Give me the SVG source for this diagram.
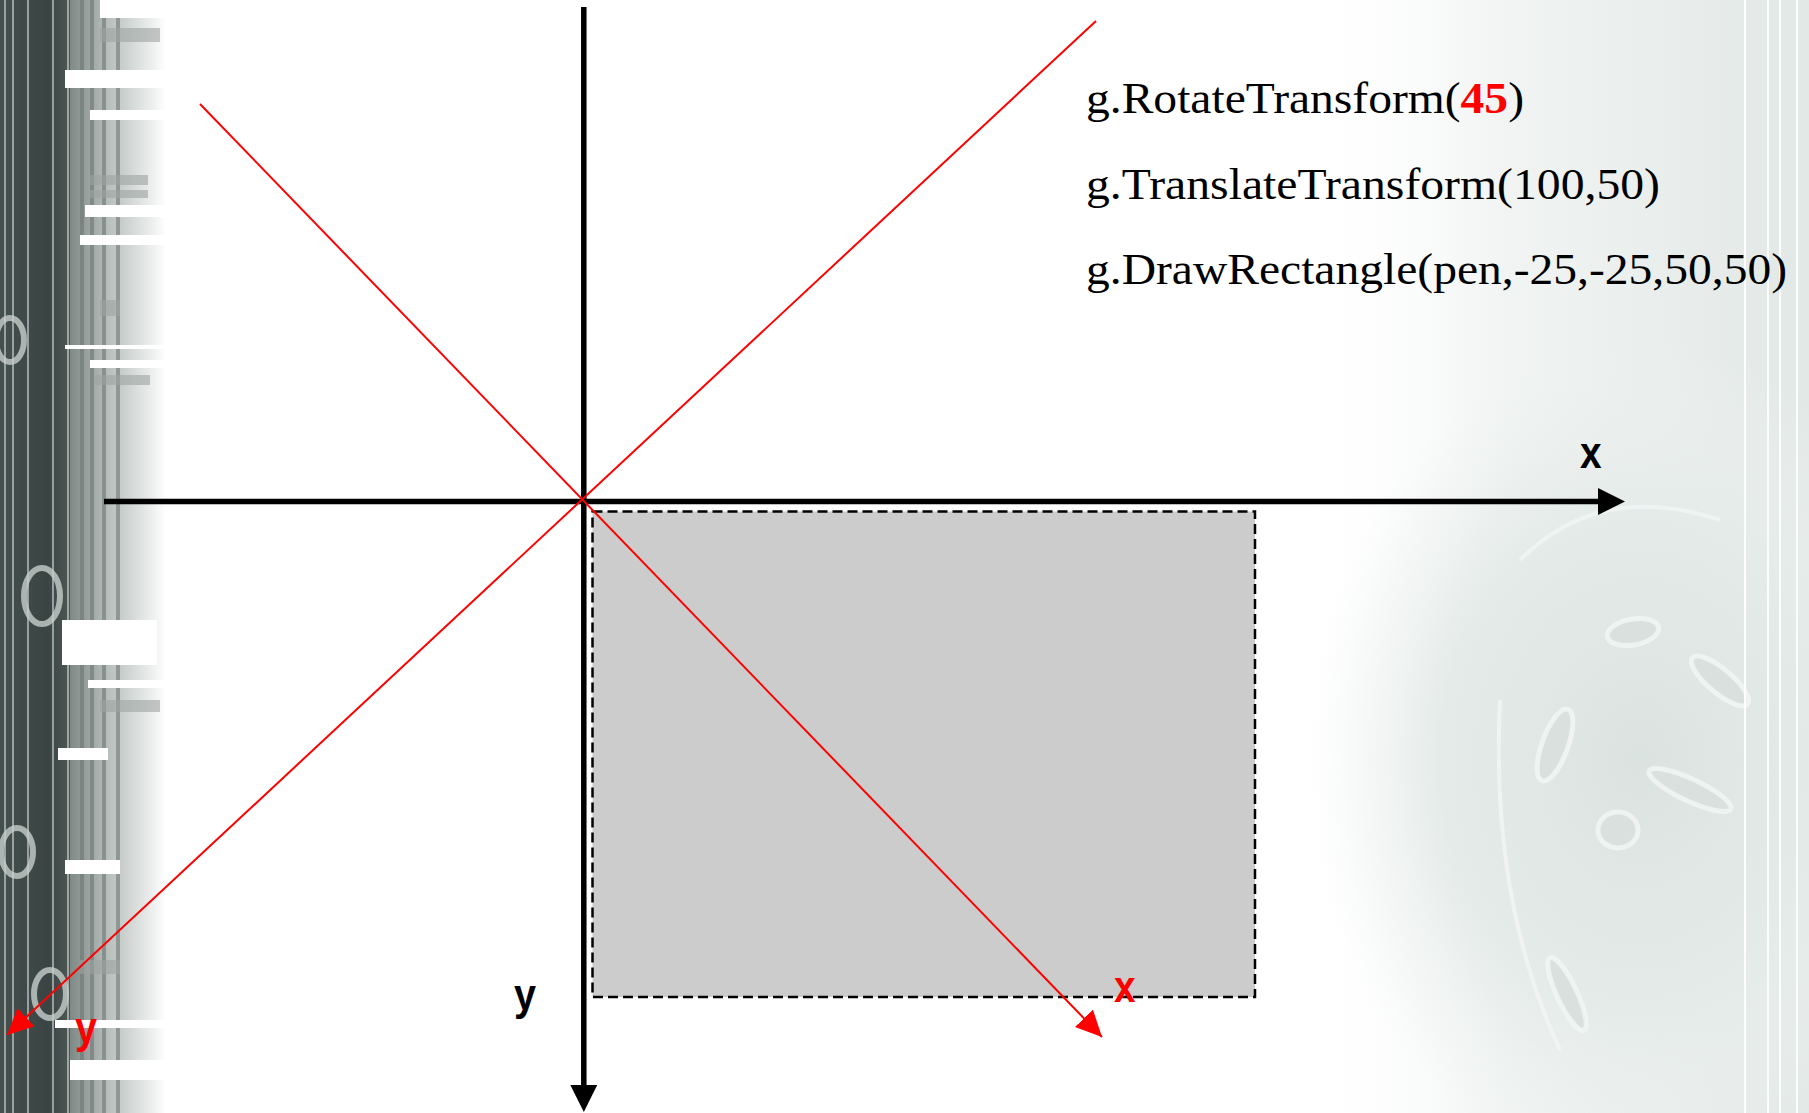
<svg xmlns="http://www.w3.org/2000/svg" width="1809" height="1113" viewBox="0 0 1809 1113">
<style>
.code{font-family:"Liberation Serif","Times New Roman",serif;font-size:45px;fill:#000}
.lbl{font-family:"Liberation Sans",Arial,sans-serif;font-weight:bold;font-size:44px}
.axis{stroke:#000;stroke-width:5.5;fill:none}
.rot{stroke:#ff0000;stroke-width:2;fill:none}
</style>
<defs>
<linearGradient id="darkg" x1="0" y1="0" x2="1" y2="0">
<stop offset="0" stop-color="#44504e"/>
<stop offset="0.6" stop-color="#3a4543"/>
<stop offset="1" stop-color="#56615e"/>
</linearGradient>
<linearGradient id="lightg" x1="0" y1="0" x2="1" y2="0">
<stop offset="0" stop-color="#7f8986"/>
<stop offset="0.4" stop-color="#b8bfbc"/>
<stop offset="0.8" stop-color="#e6e9e8"/>
<stop offset="1" stop-color="#ffffff"/>
</linearGradient>
<linearGradient id="rightg" x1="0" y1="0" x2="1" y2="0">
<stop offset="0" stop-color="#ffffff" stop-opacity="0"/>
<stop offset="0.4" stop-color="#f1f4f3"/>
<stop offset="1" stop-color="#e2e8e6"/>
</linearGradient>
<radialGradient id="swirl" cx="0.5" cy="0.5" r="0.5">
<stop offset="0" stop-color="#dbe3e0"/>
<stop offset="0.6" stop-color="#e5ebe9"/>
<stop offset="1" stop-color="#eef2f1" stop-opacity="0"/>
</radialGradient>
<marker id="ab" markerUnits="userSpaceOnUse" markerWidth="27" markerHeight="27" refX="0" refY="13.5" orient="auto">
<path d="M0,0 L27,13.5 L0,27 z" fill="#000"/>
</marker>
<marker id="ar" markerUnits="userSpaceOnUse" markerWidth="26" markerHeight="25" refX="26" refY="12.5" orient="auto">
<path d="M0,0 L26,12.5 L0,25 z" fill="#ff0000"/>
</marker>
</defs>
<rect width="1809" height="1113" fill="#ffffff"/>
<g id="background">
<rect x="1300" y="0" width="509" height="1113" fill="url(#rightg)"/>
<ellipse cx="1640" cy="760" rx="330" ry="420" fill="url(#swirl)"/>
<g fill="#d9e0de" stroke="#f3f6f5" stroke-width="5" stroke-opacity="0.8">
<ellipse cx="1633" cy="632" rx="26" ry="13" transform="rotate(-10 1633 632)"/>
<ellipse cx="1555" cy="745" rx="13" ry="38" transform="rotate(20 1555 745)"/>
<ellipse cx="1618" cy="830" rx="20" ry="18"/>
<ellipse cx="1720" cy="681" rx="12" ry="36" transform="rotate(-50 1720 681)"/>
<ellipse cx="1690" cy="790" rx="45" ry="11" transform="rotate(25 1690 790)"/>
<ellipse cx="1567" cy="994" rx="10" ry="40" transform="rotate(-25 1567 994)"/>
</g>
<g fill="none" stroke="#f5f7f6" stroke-width="4" stroke-opacity="0.7">
<path d="M1520,560 Q1600,480 1720,520"/>
<path d="M1500,700 Q1490,900 1560,1050"/>
</g>
<g stroke="#ffffff" stroke-opacity="0.9" stroke-width="2">
<line x1="1745" y1="0" x2="1745" y2="1113"/>
<line x1="1768" y1="0" x2="1768" y2="1113"/>
<line x1="1780" y1="0" x2="1780" y2="1113"/>
<line x1="1797" y1="0" x2="1797" y2="1113"/>
</g>
<rect x="0" y="0" width="80" height="1113" fill="url(#darkg)"/>
<rect x="70" y="0" width="96" height="1113" fill="url(#lightg)"/>
<g stroke="#d5dcda" stroke-opacity="0.6" stroke-width="2">
<line x1="5" y1="0" x2="5" y2="1113"/>
<line x1="13" y1="0" x2="13" y2="1113"/>
<line x1="28" y1="0" x2="28" y2="1113"/>
<line x1="53" y1="0" x2="53" y2="1113"/>
<line x1="68" y1="0" x2="68" y2="1113"/>
</g>
<g stroke="#6d7673" stroke-opacity="0.6" stroke-width="4">
<line x1="82" y1="0" x2="82" y2="1113"/>
<line x1="92" y1="0" x2="92" y2="1113"/>
<line x1="104" y1="0" x2="104" y2="1113"/>
<line x1="118" y1="0" x2="118" y2="1113"/>
</g>
<g fill="none" stroke="#c7ceca" stroke-width="6" stroke-opacity="0.8">
<ellipse cx="10" cy="340" rx="14" ry="22"/>
<ellipse cx="42" cy="596" rx="18" ry="28"/>
<ellipse cx="17" cy="852" rx="16" ry="24"/>
<ellipse cx="50" cy="994" rx="16" ry="24"/>
</g>
<g fill="#ffffff">
<rect x="100" y="0" width="66" height="18"/>
<rect x="65" y="70" width="100" height="18"/>
<rect x="90" y="110" width="75" height="10"/>
<rect x="85" y="205" width="80" height="12"/>
<rect x="80" y="235" width="85" height="10"/>
<rect x="65" y="345" width="100" height="4"/>
<rect x="90" y="360" width="75" height="8"/>
<rect x="62" y="620" width="95" height="45"/>
<rect x="88" y="680" width="77" height="8"/>
<rect x="58" y="748" width="50" height="12"/>
<rect x="65" y="860" width="55" height="14"/>
<rect x="55" y="1020" width="110" height="8"/>
<rect x="70" y="1060" width="96" height="20"/>
</g>
<g fill="#9ca3a1" fill-opacity="0.6">
<rect x="100" y="28" width="60" height="14"/>
<rect x="88" y="175" width="60" height="10"/>
<rect x="88" y="190" width="60" height="8"/>
<rect x="100" y="300" width="20" height="16"/>
<rect x="95" y="375" width="55" height="10"/>
<rect x="100" y="700" width="60" height="12"/>
<rect x="80" y="960" width="40" height="14"/>
</g>
</g>
<g id="rectangle">
<rect x="592.5" y="511.5" width="662.5" height="485.5" fill="#cccccc" stroke="#000" stroke-width="2.5" stroke-dasharray="10 5"/>
</g>
<g id="connectors">
<line id="axis-x" class="axis" x1="104" y1="501.5" x2="1598" y2="501.5" marker-end="url(#ab)"/>
<line id="axis-y" class="axis" x1="583.8" y1="7" x2="583.8" y2="1085" marker-end="url(#ab)"/>
<line id="rot-x" class="rot" x1="200" y1="104" x2="1102" y2="1037" marker-end="url(#ar)"/>
<line id="rot-y" class="rot" x1="1096" y1="21" x2="7" y2="1035" marker-end="url(#ar)"/>
</g>
<g id="labels">
<text class="lbl" transform="translate(1580,468) scale(0.88,1)" fill="#000">x</text>
<text class="lbl" transform="translate(514,1010) scale(0.9,1)" fill="#000">y</text>
<text class="lbl" transform="translate(1114,1002) scale(0.88,1)" fill="#ff0000">x</text>
<text class="lbl" transform="translate(75,1043) scale(0.9,1)" fill="#ff0000">y</text>
</g>
<g id="code">
<text class="code" x="1086" y="113" textLength="438" lengthAdjust="spacingAndGlyphs">g.RotateTransform(<tspan fill="#ff0000" font-weight="bold">45</tspan>)</text>
<text class="code" x="1086" y="199" textLength="574" lengthAdjust="spacingAndGlyphs">g.TranslateTransform(100,50)</text>
<text class="code" x="1086" y="284" textLength="701" lengthAdjust="spacingAndGlyphs">g.DrawRectangle(pen,-25,-25,50,50)</text>
</g>
</svg>
